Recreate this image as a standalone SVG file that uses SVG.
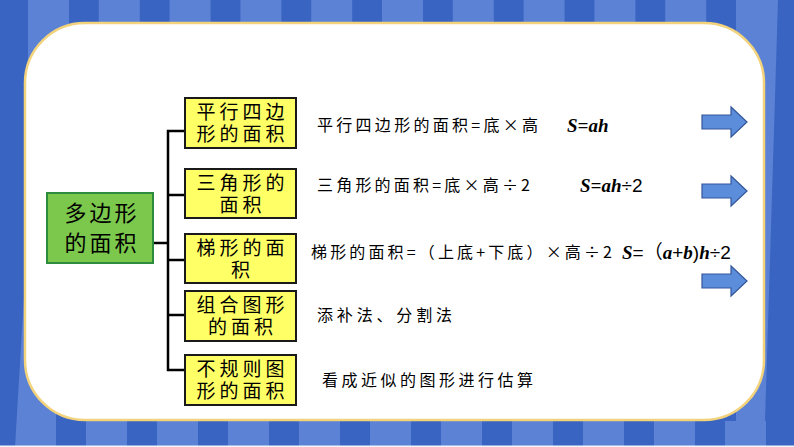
<svg xmlns="http://www.w3.org/2000/svg" xmlns:xlink="http://www.w3.org/1999/xlink" width="794" height="447" viewBox="0 0 794 447">
<style>
.lt{fill:#5b82d4}
.box{fill:#ffff66;stroke:#1a1a1a;stroke-width:2}
.root{fill:#7cc84c;stroke:#2e8b3c;stroke-width:2}
.bt{font-family:"Liberation Sans","Noto Sans CJK SC","Noto Sans CJK TC",sans-serif;font-size:19px;fill:#000;text-anchor:middle;letter-spacing:4px}
.rt{font-family:"Liberation Sans","Noto Sans CJK SC","Noto Sans CJK TC",sans-serif;font-size:22px;fill:#000;text-anchor:middle;letter-spacing:3px}
.tx{font-family:"Noto Sans CJK SC","Noto Sans CJK TC",sans-serif;font-size:16px;fill:#000}
.fm{font-family:"Liberation Serif",serif;font-size:19px;font-weight:bold;font-style:italic;fill:#000}
.fr{font-family:"Liberation Sans","Noto Sans CJK SC",sans-serif;font-size:19px;font-style:normal;font-weight:normal}
.con{fill:none;stroke:#000;stroke-width:2.5}
.arr{fill:#5b8ddb;stroke:#34579a;stroke-width:1.2}
</style>
<defs>
<path id="ar" d="M0 8 H29 V0 L45 15 L29 30 V22 H0 Z"/>
</defs>
<g id="background">
<rect width="794" height="447" fill="#3a64c2"/>
<rect class="lt" x="28" y="0" width="41" height="90"/>
<rect class="lt" x="98.8" y="0" width="41" height="24"/>
<rect class="lt" x="169.6" y="0" width="41" height="24"/>
<rect class="lt" x="240.4" y="0" width="41" height="24"/>
<rect class="lt" x="311.2" y="0" width="41" height="24"/>
<rect class="lt" x="382" y="0" width="41" height="24"/>
<rect class="lt" x="452.8" y="0" width="41" height="24"/>
<rect class="lt" x="523.6" y="0" width="41" height="24"/>
<rect class="lt" x="594.4" y="0" width="41" height="24"/>
<rect class="lt" x="665.2" y="0" width="41" height="24"/>
<polygon class="lt" points="736,0 778,0 765,421 736,421"/>
<polygon class="lt" points="25,280 56,280 56,447 15,447"/>
<rect class="lt" x="86" y="421" width="41" height="26"/>
<rect class="lt" x="157" y="421" width="41" height="26"/>
<rect class="lt" x="228" y="421" width="41" height="26"/>
<rect class="lt" x="299" y="421" width="41" height="26"/>
<rect class="lt" x="370" y="421" width="41" height="26"/>
<rect class="lt" x="441" y="421" width="41" height="26"/>
<rect class="lt" x="512" y="421" width="41" height="26"/>
<rect class="lt" x="583" y="421" width="41" height="26"/>
<rect class="lt" x="654" y="421" width="41" height="26"/>
<rect class="lt" x="725" y="421" width="41" height="26"/>
<rect x="0" y="445.5" width="794" height="1.5" fill="#f4f6fb"/>
<rect x="25" y="23" width="739" height="397" rx="60" ry="60" fill="#fff" stroke="#f2d37c" stroke-width="2.5"/>
</g>
<g id="connectors">
<path class="con" d="M153 243 H168"/>
<path class="con" d="M185 131 H168 V370 H185"/>
<path class="con" d="M168 195 H185"/>
<path class="con" d="M168 260 H185"/>
<path class="con" d="M168 315 H185"/>
</g>
<g id="root">
<rect class="root" x="47" y="193" width="106" height="70"/>
<text class="rt"><tspan x="102" y="221">多边形</tspan><tspan x="102" y="251">的面积</tspan></text>
</g>
<g id="n1">
<rect class="box" x="185" y="98" width="111" height="50"/>
<text class="bt"><tspan x="242.5" y="118.5">平行四边</tspan><tspan x="242.5" y="140.5">形的面积</tspan></text>
</g>
<g id="n2">
<rect class="box" x="185" y="169" width="111" height="49"/>
<text class="bt"><tspan x="242.5" y="189.5">三角形的</tspan><tspan x="242.5" y="211.5">面积</tspan></text>
</g>
<g id="n3">
<rect class="box" x="185" y="234" width="111" height="49"/>
<text class="bt"><tspan x="242.5" y="254.5">梯形的面</tspan><tspan x="242.5" y="276.5">积</tspan></text>
</g>
<g id="n4">
<rect class="box" x="185" y="291" width="111" height="50"/>
<text class="bt"><tspan x="242.5" y="311.5">组合图形</tspan><tspan x="242.5" y="333.5">的面积</tspan></text>
</g>
<g id="n5">
<rect class="box" x="185" y="355" width="111" height="50"/>
<text class="bt"><tspan x="242.5" y="375.5">不规则图</tspan><tspan x="242.5" y="397.5">形的面积</tspan></text>
</g>
<g id="texts">
<text class="tx" x="317" y="131" textLength="221" lengthAdjust="spacing">平行四边形的面积=底×高</text>
<text class="fm" x="567" y="132">S=ah</text>
<text class="tx" x="317" y="191" textLength="213" lengthAdjust="spacing">三角形的面积=底×高÷2</text>
<text class="fm" x="580" y="192">S=ah<tspan class="fr">÷2</tspan></text>
<text class="tx" x="311" y="258" textLength="301" lengthAdjust="spacing">梯形的面积=（上底+下底）×高÷2</text>
<text class="fm" x="622" y="259">S<tspan class="fr">=（</tspan>a<tspan class="fr">+</tspan>b<tspan class="fr">)</tspan>h<tspan class="fr">÷2</tspan></text>
<text class="tx" x="317" y="321" textLength="135" lengthAdjust="spacing">添补法、分割法</text>
<text class="tx" x="322" y="386" textLength="211" lengthAdjust="spacing">看成近似的图形进行估算</text>
</g>
<g id="arrows">
<use xlink:href="#ar" class="arr" x="702" y="107"/>
<use xlink:href="#ar" class="arr" x="702" y="176"/>
<use xlink:href="#ar" class="arr" x="702" y="266"/>
</g>
</svg>
